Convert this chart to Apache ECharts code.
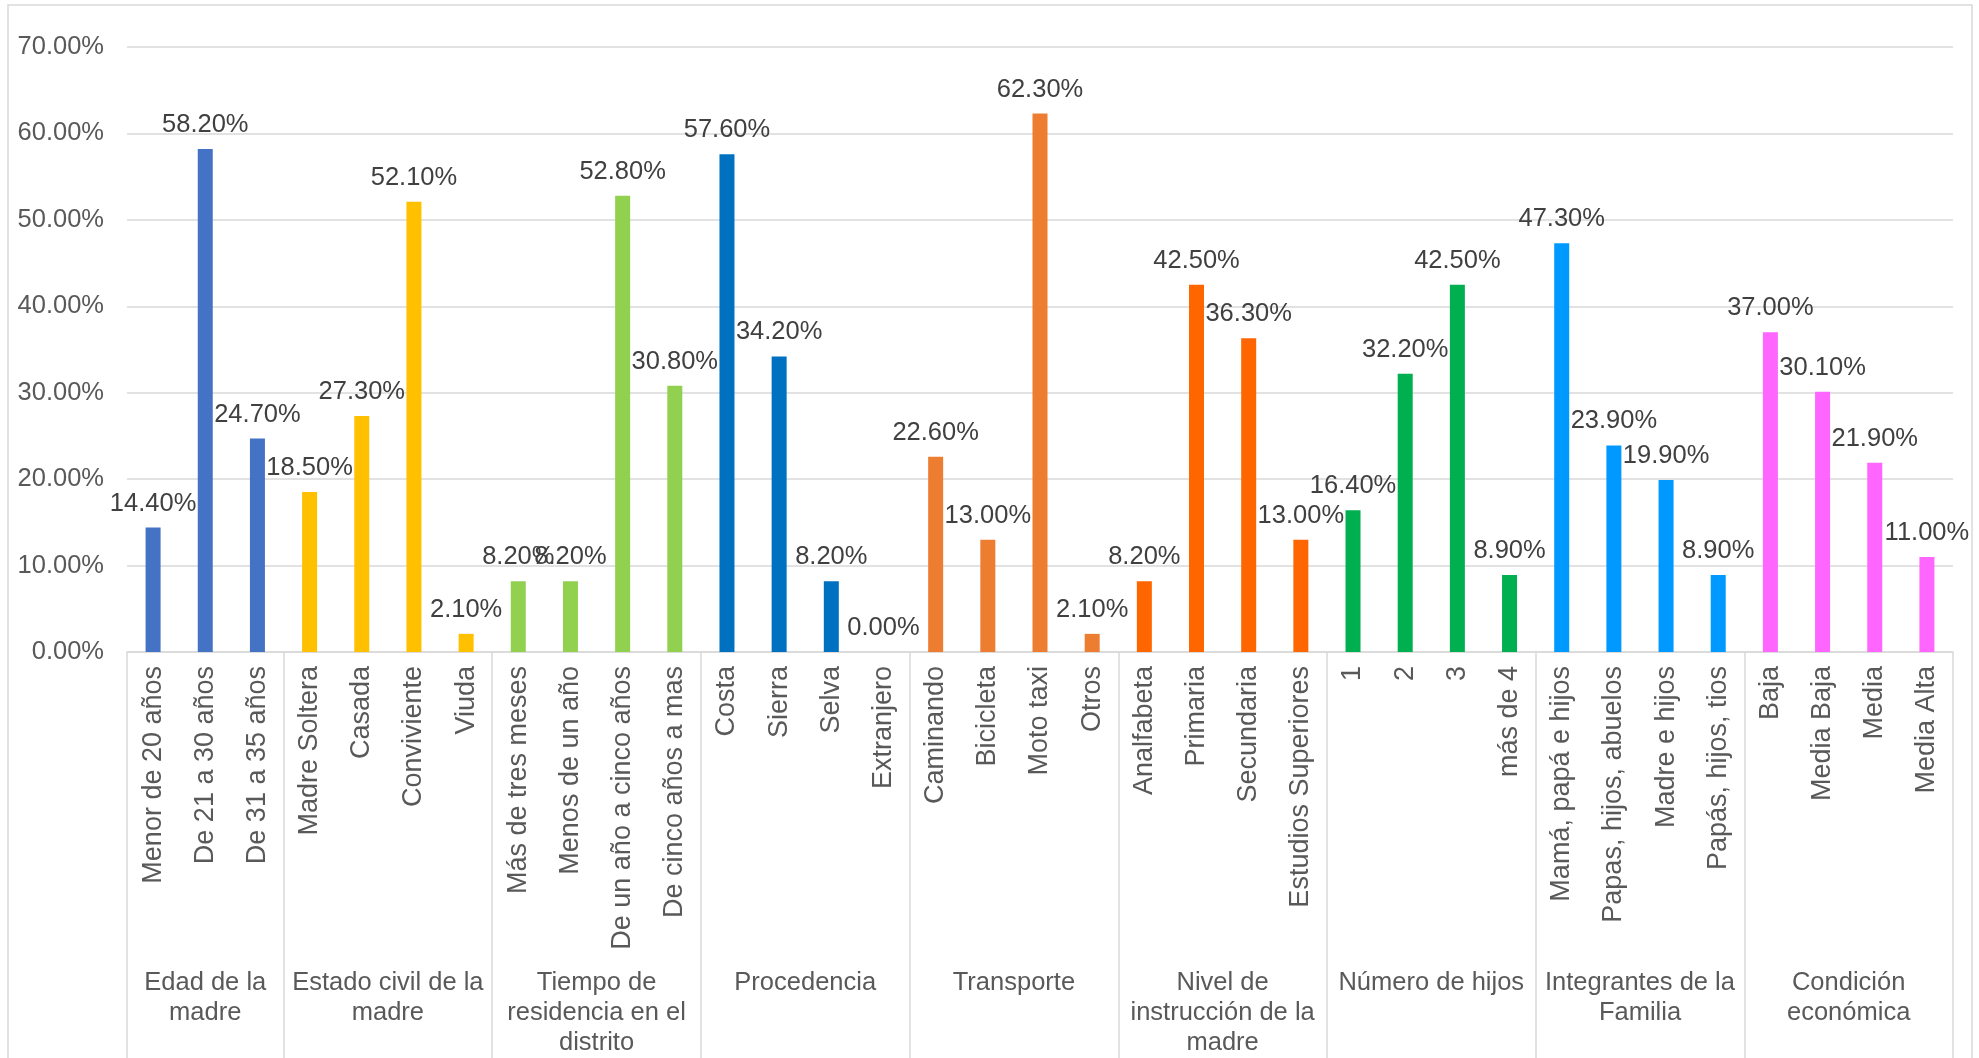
<!DOCTYPE html>
<html>
<head>
<meta charset="utf-8">
<script src="https://cdn.jsdelivr.net/npm/echarts@6/dist/echarts.min.js"></script>
<style>
html,body{margin:0;padding:0;background:#fff;}
#chart{width:1979px;height:1058px;}
</style>
</head>
<body>
<div id="chart"></div>
<script>
// ---- data ----
const groupNames = [
  'Edad de la\nmadre',
  'Estado civil de la\nmadre',
  'Tiempo de\nresidencia en el\ndistrito',
  'Procedencia',
  'Transporte',
  'Nivel de\ninstrucción de la\nmadre',
  'Número de hijos',
  'Integrantes de la\nFamilia',
  'Condición\neconómica'
];
const groupSizes = [3, 4, 4, 4, 4, 4, 4, 4, 4];
const groupColors = ['#4472C4', '#FFC000', '#92D050', '#0070C0', '#ED7D31', '#FF6600', '#00B050', '#0099FF', '#FF66FF'];
const categories = [
  'Menor de 20 años', 'De 21 a 30 años', 'De 31 a 35 años',
  'Madre Soltera', 'Casada', 'Conviviente', 'Viuda',
  'Más de tres meses', 'Menos de un año', 'De un año a cinco años', 'De cinco años a mas',
  'Costa', 'Sierra', 'Selva', 'Extranjero',
  'Caminando', 'Bicicleta', 'Moto taxi', 'Otros',
  'Analfabeta', 'Primaria', 'Secundaria', 'Estudios Superiores',
  '1', '2', '3', 'más de 4',
  'Mamá, papá e hijos', 'Papas, hijos, abuelos', 'Madre e hijos', 'Papás, hijos, tios',
  'Baja', 'Media Baja', 'Media', 'Media Alta'
];
const values = [
  14.4, 58.2, 24.7,
  18.5, 27.3, 52.1, 2.1,
  8.2, 8.2, 52.8, 30.8,
  57.6, 34.2, 8.2, 0.0,
  22.6, 13.0, 62.3, 2.1,
  8.2, 42.5, 36.3, 13.0,
  16.4, 32.2, 42.5, 8.9,
  47.3, 23.9, 19.9, 8.9,
  37.0, 30.1, 21.9, 11.0
];
const yTicks = [0, 10, 20, 30, 40, 50, 60, 70];

// ---- derived helpers ----
const boundaries = [0];
groupSizes.forEach(s => boundaries.push(boundaries[boundaries.length - 1] + s));
const centers = groupSizes.map((s, i) => boundaries[i] + s / 2);
const colorOf = [];
groupSizes.forEach((s, g) => { for (let k = 0; k < s; k++) colorOf.push(groupColors[g]); });

const FONT = 'Liberation Sans, Arial, sans-serif';
const GRID = '#d9d9d9';

const chart = echarts.init(document.getElementById('chart'));
chart.setOption({
  backgroundColor: '#ffffff',
  animation: false,
  graphic: [{
    type: 'rect',
    shape: { x: 8, y: 5, width: 1964, height: 1100 },
    style: { fill: 'none', stroke: GRID, lineWidth: 1.5 },
    silent: true
  }],
  grid: { left: 127, right: 26, top: 47, bottom: 404, containLabel: false },
  xAxis: [{
    type: 'category',
    data: categories,
    axisLine: { show: true, lineStyle: { color: GRID, width: 1.5 } },
    axisTick: { show: false },
    axisLabel: {
      interval: 0, rotate: 90, margin: 14,
      fontSize: 27, fontFamily: FONT, color: '#595959'
    }
  }, {
    type: 'value',
    position: 'bottom',
    min: 0, max: boundaries[boundaries.length - 1],
    axisLine: { show: false },
    splitLine: { show: false },
    axisTick: {
      show: true, customValues: boundaries, length: 420,
      lineStyle: { color: GRID, width: 1.5 }
    },
    axisLabel: {
      show: true, customValues: centers, margin: 316,
      formatter: function (v) {
        const i = centers.indexOf(v);
        return i >= 0 ? groupNames[i] : '';
      },
      fontSize: 25.5, fontFamily: FONT, color: '#595959',
      lineHeight: 30, align: 'center'
    }
  }],
  yAxis: {
    type: 'value',
    min: yTicks[0], max: yTicks[yTicks.length - 1], interval: 10,
    axisLine: { show: false },
    axisTick: { show: false },
    splitLine: { lineStyle: { color: GRID, width: 1.5 } },
    axisLabel: {
      margin: 23, fontSize: 25.5, fontFamily: FONT, color: '#595959',
      formatter: v => v.toFixed(2) + '%'
    }
  },
  series: [{
    type: 'bar',
    xAxisIndex: 0,
    data: values,
    barWidth: 15,
    itemStyle: { color: p => colorOf[p.dataIndex] },
    label: {
      show: true, position: 'top', distance: 11,
      fontSize: 25.5, fontFamily: FONT, color: '#404040',
      formatter: p => p.value.toFixed(2) + '%'
    }
  }]
});
</script>
</body>
</html>
